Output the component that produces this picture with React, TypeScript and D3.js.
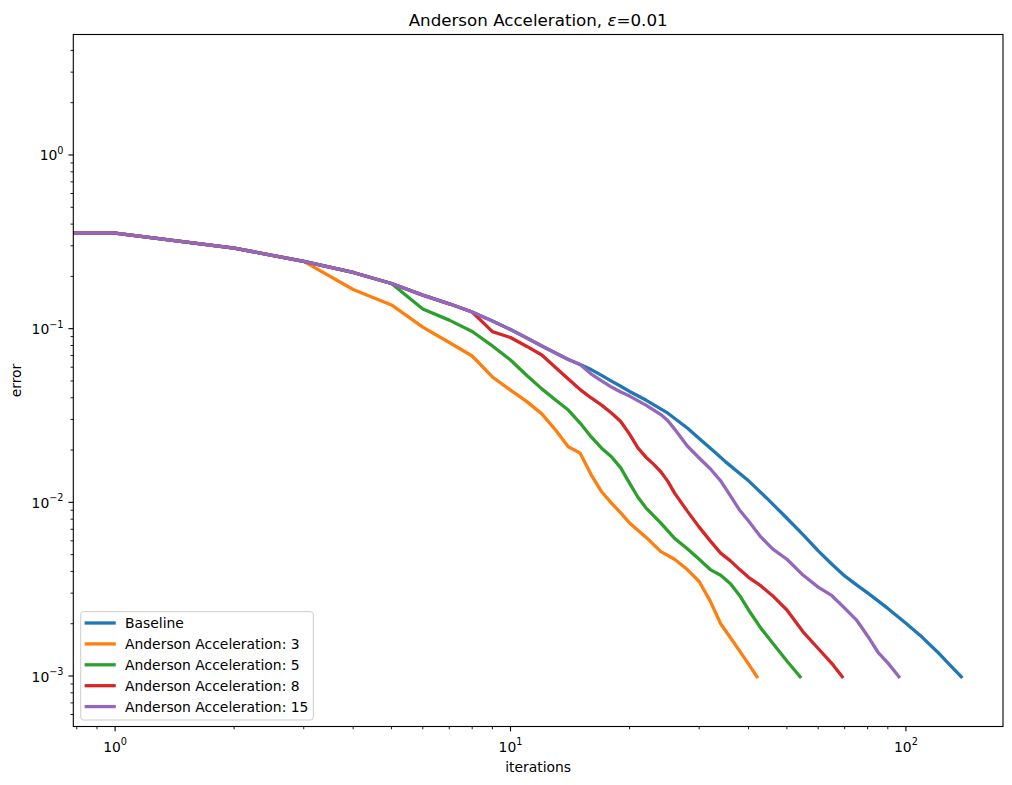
import React from 'react';
import * as d3 from 'd3';

const W = 1012;
const H = 785;
const PLOT = { left: 73.3, top: 34.5, right: 1003, bottom: 726.5 };

const xDomain = [0.784, 176];
const yDomain = [5.12e-4, 4.94];

const titleText = 'Anderson Acceleration, ';
const titleSymbol = 'ε';
const titleTail = '=0.01';
const xLabel = 'iterations';
const yLabel = 'error';

const seriesNames = [
  'Baseline',
  'Anderson Acceleration: 3',
  'Anderson Acceleration: 5',
  'Anderson Acceleration: 8',
  'Anderson Acceleration: 15',
];
const seriesColors = ['#1f77b4', '#ff7f0e', '#2ca02c', '#d62728', '#9467bd'];

// Baseline (iteration 0 is clipped by the log axis, as in the original)
const baselineIters = [0, 1, 2, 3, 4, 5, 6, 7, 8, 9, 10, 11, 12, 13, 14, 15, 16, 17, 18, 19, 20, 22, 25, 28, 30, 33, 35, 40, 45, 50, 55, 60, 65, 70, 75, 80, 90, 100, 110, 120, 130, 138];
const baselineErr = [0.355, 0.355, 0.291, 0.244, 0.2106, 0.182, 0.156, 0.139, 0.1247, 0.1107, 0.0989, 0.0884, 0.0795, 0.0724, 0.0665, 0.0622, 0.0581, 0.0538, 0.0499, 0.0466, 0.0435, 0.0388, 0.0326, 0.0268, 0.0233, 0.0193, 0.0171, 0.0133, 0.0103, 0.0081, 0.0065, 0.00525, 0.0044, 0.00377, 0.00335, 0.00301, 0.00245, 0.00201, 0.00167, 0.00138, 0.00114, 0.00099];

// Anderson acceleration, memory 3 (departs from baseline after iteration 3)
const aa3Start = 3;
const aa3Iters = [4, 5, 6, 7, 8, 9, 10, 11, 12, 13, 14, 15, 16, 17, 18, 19, 20, 22, 24, 26, 28, 30, 32, 34, 36, 38, 40, 42];
const aa3Err = [0.168, 0.1369, 0.102, 0.0832, 0.0696, 0.0527, 0.0443, 0.038, 0.0323, 0.0261, 0.0209, 0.0192, 0.0144, 0.0115, 0.0099, 0.0087, 0.0076, 0.0063, 0.0052, 0.0047, 0.0041, 0.0035, 0.0027, 0.002, 0.00166, 0.00139, 0.00117, 0.00099];

// memory 5
const aa5Start = 5;
const aa5Iters = [6, 7, 8, 9, 10, 11, 12, 13, 14, 15, 16, 17, 18, 19, 20, 21, 22, 24, 26, 28, 30, 32, 34, 36, 38, 40, 43, 46, 50, 54];
const aa5Err = [0.1298, 0.112, 0.0963, 0.0795, 0.066, 0.0537, 0.045, 0.0388, 0.034, 0.0286, 0.0238, 0.0205, 0.0183, 0.0158, 0.0129, 0.0107, 0.0093, 0.0076, 0.0062, 0.0054, 0.0047, 0.0041, 0.0038, 0.0034, 0.0029, 0.0024, 0.00188, 0.00155, 0.00122, 0.00099];

// memory 8
const aa8Start = 8;
const aa8Iters = [9, 10, 11, 12, 13, 14, 15, 16, 17, 18, 19, 20, 21, 22, 23, 24, 25, 26, 28, 30, 32, 34, 36, 38, 40, 43, 46, 50, 55, 60, 65, 69];
const aa8Err = [0.0961, 0.0889, 0.079, 0.0705, 0.0598, 0.0513, 0.0446, 0.0399, 0.0363, 0.0327, 0.0292, 0.0247, 0.0206, 0.0182, 0.0166, 0.015, 0.0132, 0.0113, 0.0089, 0.0072, 0.006, 0.0051, 0.0046, 0.0041, 0.0037, 0.0033, 0.0029, 0.0024, 0.00179, 0.00144, 0.00118, 0.00099];

// memory 15
const aa15Start = 15;
const aa15Iters = [16, 17, 18, 19, 20, 22, 24, 25, 26, 28, 30, 32, 34, 36, 38, 40, 43, 46, 50, 55, 60, 65, 70, 75, 80, 85, 90, 96];
const aa15Err = [0.0548, 0.05, 0.0461, 0.0432, 0.0409, 0.0363, 0.032, 0.0295, 0.0264, 0.0211, 0.018, 0.0156, 0.0133, 0.0109, 0.009, 0.0078, 0.0063, 0.0054, 0.0047, 0.0038, 0.00325, 0.0029, 0.00246, 0.0021, 0.0017, 0.00137, 0.00119, 0.00099];

type Pt = { it: number; err: number };

function zip(iters: number[], errs: number[]): Pt[] {
  return iters.map((it, i) => ({ it, err: errs[i] }));
}

function withPrefix(start: number, iters: number[], errs: number[]): Pt[] {
  const prefix = zip(baselineIters, baselineErr).filter((p) => p.it <= start);
  return prefix.concat(zip(iters, errs));
}

const seriesData: Pt[][] = [
  zip(baselineIters, baselineErr),
  withPrefix(aa3Start, aa3Iters, aa3Err),
  withPrefix(aa5Start, aa5Iters, aa5Err),
  withPrefix(aa8Start, aa8Iters, aa8Err),
  withPrefix(aa15Start, aa15Iters, aa15Err),
];

const FONT = 'DejaVu Sans, sans-serif';
const FS = 13.9;
const SUP = 9.7;

function logTicks(domain: number[]) {
  const lo = Math.floor(Math.log10(domain[0]));
  const hi = Math.ceil(Math.log10(domain[1]));
  const major: number[] = [];
  const minor: number[] = [];
  for (let e = lo; e <= hi; e++) {
    for (let m = 1; m <= 9; m++) {
      const v = m * Math.pow(10, e);
      if (v >= domain[0] * 0.9999 && v <= domain[1] * 1.0001) {
        if (m === 1) major.push(e);
        else minor.push(v);
      }
    }
  }
  return { major, minor };
}

function expLabel(e: number) {
  return e < 0 ? '\u2212' + Math.abs(e) : String(e);
}

export default function App() {
  const x = d3.scaleLog().domain(xDomain).range([PLOT.left, PLOT.right]);
  const y = d3.scaleLog().domain(yDomain).range([PLOT.bottom, PLOT.top]);

  const px = (it: number) => (it <= 0 ? x(1e-30) : x(it));

  const line = d3
    .line<Pt>()
    .x((d) => px(d.it))
    .y((d) => y(d.err))
    .curve(d3.curveLinear);

  const xt = logTicks(xDomain);
  const yt = logTicks(yDomain);

  const lw = 3.3;
  const tickW = 1.1;
  const majLen = 4.86;
  const minLen = 2.78;

  const legendX = 80.7;
  const legendY = 611.7;
  const legendW = 232.6;
  const legendH = 108.3;
  const rowY0 = 623;
  const rowStep = 20.9;
  const handleX0 = 86.3;
  const handleX1 = 114.1;
  const textX = 125;

  return (
    <svg
      width={W}
      height={H}
      viewBox={`0 0 ${W} ${H}`}
      style={{ position: 'absolute', left: 0, top: 0, background: '#fff' }}
      fontFamily={FONT}
    >
      <defs>
        <clipPath id="plotClip">
          <rect x={PLOT.left} y={PLOT.top} width={PLOT.right - PLOT.left} height={PLOT.bottom - PLOT.top} />
        </clipPath>
      </defs>
      <rect x={0} y={0} width={W} height={H} fill="#fff" />

      {/* lines */}
      <g clipPath="url(#plotClip)">
        {seriesData.map((d, i) => (
          <path
            key={i}
            d={line(d) || ''}
            fill="none"
            stroke={seriesColors[i]}
            strokeWidth={lw}
            strokeLinejoin="round"
            strokeLinecap="square"
          />
        ))}
      </g>

      {/* x ticks */}
      {xt.major.map((e) => {
        const xx = x(Math.pow(10, e));
        return (
          <g key={'xm' + e}>
            <line x1={xx} x2={xx} y1={PLOT.bottom} y2={PLOT.bottom + majLen} stroke="#000" strokeWidth={tickW} />
            <text x={xx} y={751.5} textAnchor="middle" fontSize={FS} fill="#000">
              <tspan>10</tspan>
              <tspan dy={-6.5} fontSize={SUP}>{expLabel(e)}</tspan>
            </text>
          </g>
        );
      })}
      {xt.minor.map((v, i) => {
        const xx = x(v);
        return <line key={'xn' + i} x1={xx} x2={xx} y1={PLOT.bottom} y2={PLOT.bottom + minLen} stroke="#000" strokeWidth={tickW * 0.8} />;
      })}

      {/* y ticks */}
      {yt.major.map((e) => {
        const yy = y(Math.pow(10, e));
        return (
          <g key={'ym' + e}>
            <line x1={PLOT.left - majLen} x2={PLOT.left} y1={yy} y2={yy} stroke="#000" strokeWidth={tickW} />
            <text x={PLOT.left - majLen - 4.9} y={yy + 5.5} textAnchor="end" fontSize={FS} fill="#000">
              <tspan>10</tspan>
              <tspan dy={-6.5} fontSize={SUP}>{expLabel(e)}</tspan>
            </text>
          </g>
        );
      })}
      {yt.minor.map((v, i) => {
        const yy = y(v);
        return <line key={'yn' + i} x1={PLOT.left - minLen} x2={PLOT.left} y1={yy} y2={yy} stroke="#000" strokeWidth={tickW * 0.8} />;
      })}

      {/* frame */}
      <rect
        x={PLOT.left}
        y={PLOT.top}
        width={PLOT.right - PLOT.left}
        height={PLOT.bottom - PLOT.top}
        fill="none"
        stroke="#000"
        strokeWidth={tickW}
      />

      {/* labels */}
      <text x={(PLOT.left + PLOT.right) / 2} y={26} textAnchor="middle" fontSize={16.7} fill="#000">
        {titleText}
        <tspan fontStyle="italic">{titleSymbol}</tspan>
        {titleTail}
      </text>
      <text x={(PLOT.left + PLOT.right) / 2} y={772} textAnchor="middle" fontSize={FS} fill="#000">
        {xLabel}
      </text>
      <text
        transform={`translate(21,${(PLOT.top + PLOT.bottom) / 2}) rotate(-90)`}
        textAnchor="middle"
        fontSize={FS}
        fill="#000"
      >
        {yLabel}
      </text>

      {/* legend */}
      <g>
        <rect
          x={legendX}
          y={legendY}
          width={legendW}
          height={legendH}
          rx={2.8}
          ry={2.8}
          fill="#fff"
          fillOpacity={0.8}
          stroke="#cccccc"
          strokeWidth={1}
        />
        {seriesNames.map((name, i) => {
          const yy = rowY0 + i * rowStep;
          return (
            <g key={name}>
              <line
                x1={handleX0}
                x2={handleX1}
                y1={yy}
                y2={yy}
                stroke={seriesColors[i]}
                strokeWidth={lw}
                strokeLinecap="square"
              />
              <text x={textX} y={yy + 5} fontSize={FS} fill="#000">
                {name}
              </text>
            </g>
          );
        })}
      </g>
    </svg>
  );
}
